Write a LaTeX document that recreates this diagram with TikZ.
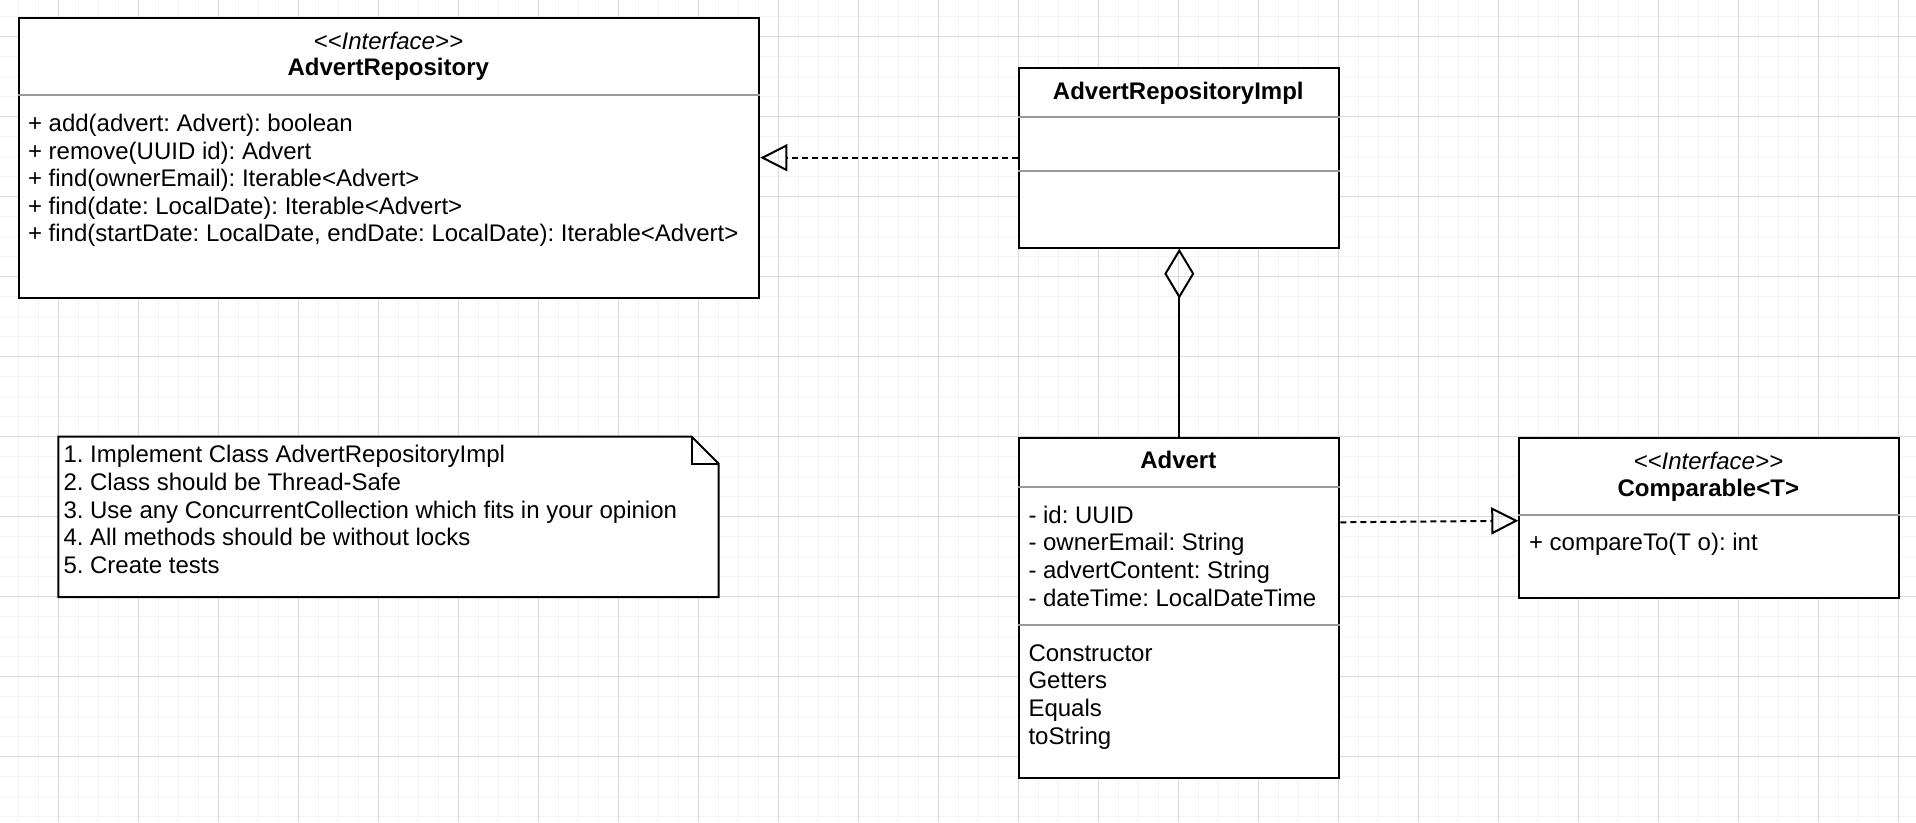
\documentclass[tikz,border=0pt]{standalone}
\usepackage{fontspec}
\setmainfont{Liberation Sans}
\usetikzlibrary{arrows.meta}
\definecolor{sepgray}{RGB}{153,153,153}
\definecolor{gridmajor}{RGB}{218,218,218}
\definecolor{gridminor}{RGB}{243,243,243}
\newcommand{\fs}{\fontsize{24pt}{27.7pt}\selectfont\frenchspacing}
\tikzset{
  cls/.style={draw=black, line width=2pt, fill=white, rectangle, inner sep=0pt, anchor=north west},
  sepline/.style={draw=sepgray, line width=2pt},
  txt/.style={inner sep=0pt, anchor=base west, font=\fs},
  ttl/.style={inner sep=0pt, anchor=base, font=\fs\bfseries},
  stereo/.style={inner sep=0pt, anchor=base, font=\fs\itshape},
  conn/.style={line width=2pt, draw=black},
  realize/.style={conn, dash pattern=on 6pt off 4pt, -{Triangle[open, length=27pt, width=27pt]}},
  aggr/.style={conn, {Diamond[open, length=50pt, width=30pt]}-},
  minorg/.style={draw=gridminor, line width=1.5pt},
  majorg/.style={draw=gridmajor, line width=1pt},
}
\begin{document}
\begin{tikzpicture}[x=1pt, y=-1pt]
\useasboundingbox (0,0) rectangle (1916,822);
\fill[white] (0,0) rectangle (1916,822);
% background grid
\foreach \k in {0,...,96} { \draw[minorg] ({-1.7+20*\k},0) -- ++(0,822); }
\foreach \k in {0,...,41} { \draw[minorg] (0,{-3.3+20*\k}) -- ++(1916,0); }
\foreach \k in {0,...,23} { \draw[majorg] ({58.3+80*\k},0) -- ++(0,822); }
\foreach \k in {0,...,9} { \draw[majorg] (0,{36.7+80*\k}) -- ++(1916,0); }

% AdvertRepository
\node[cls, minimum width=740pt, minimum height=280pt] (repo) at (18.3,16.7) {};
\draw[sepline] (repo.west |- 0,95) -- (repo.east |- 0,95);
\node[stereo] (repo-st) at (388.3,49) {<{}<Interface>{}>};
\node[ttl] (repo-name) at (388.3,75.5) {AdvertRepository};
\foreach \t [count=\i] in {{+ add(advert: Advert): boolean},
  {+ remove(UUID id): Advert},
  {+ find(ownerEmail): Iterable<Advert>},
  {+ find(date: LocalDate): Iterable<Advert>},
  {+ find(startDate: LocalDate, endDate: LocalDate): Iterable<Advert>}}
  { \node[txt] (repo-m\i) at (27.8,{131.5+27.6*(\i-1)}) {\t}; }

% AdvertRepositoryImpl
\node[cls, minimum width=320pt, minimum height=180pt] (impl) at (1018.3,66.7) {};
\draw[sepline] (impl.west |- 0,116.7) -- (impl.east |- 0,116.7);
\draw[sepline] (impl.west |- 0,170.7) -- (impl.east |- 0,170.7);
\node[ttl] (impl-name) at (1178.3,99.5) {AdvertRepositoryImpl};

% Advert
\node[cls, minimum width=320pt, minimum height=340pt] (advert) at (1018.3,436.7) {};
\draw[sepline] (advert.west |- 0,486.7) -- (advert.east |- 0,486.7);
\draw[sepline] (advert.west |- 0,624.7) -- (advert.east |- 0,624.7);
\node[ttl] (advert-name) at (1178.3,468.8) {Advert};
\foreach \t [count=\i] in {{- id: UUID}, {- ownerEmail: String}, {- advertContent: String}, {- dateTime: LocalDateTime}}
  { \node[txt] (advert-a\i) at (1028.3,{523.2+27.7*(\i-1)}) {\t}; }
\foreach \t [count=\i] in {Constructor, Getters, Equals, toString}
  { \node[txt] (advert-m\i) at (1028.3,{661+27.8*(\i-1)}) {\t}; }

% Comparable<T>
\node[cls, minimum width=380pt, minimum height=160pt] (comp) at (1518.3,436.7) {};
\draw[sepline] (comp.west |- 0,515) -- (comp.east |- 0,515);
\node[stereo] (comp-st) at (1708.3,469) {<{}<Interface>{}>};
\node[ttl] (comp-name) at (1708.3,496.5) {Comparable<T>};
\node[txt] (comp-m1) at (1528.8,550.8) {+ compareTo(T o): int};

% Note
\node[inner sep=0pt, minimum width=660pt, minimum height=160pt, anchor=north west] (note) at (58.3,436.7) {};
\draw[line width=2pt, fill=white, line join=miter]
  (note.north west) -- ([xshift=-27pt]note.north east) -- ([yshift=-27pt]note.north east)
  -- (note.south east) -- (note.south west) -- cycle;
\draw[line width=2pt, line join=miter]
  ([xshift=-27pt]note.north east) -- ++(0,27) -- ([yshift=-27pt]note.north east);
\foreach \t [count=\i] in {{1. Implement Class AdvertRepositoryImpl},
  {2. Class should be Thread-Safe},
  {3. Use any ConcurrentCollection which fits in your opinion},
  {4. All methods should be without locks},
  {5. Create tests}}
  { \node[txt] (note-l\i) at (63.3,{462.7+27.7*(\i-1)}) {\t}; }

% Connectors
\draw[realize] (impl.west) -- (repo.east |- impl.west);
\draw[aggr] (impl.south) -- (advert.north);
\draw[realize] ([yshift=-85.6pt]advert.north east) -- ([yshift=-84pt]comp.north west);
\end{tikzpicture}
\end{document}
